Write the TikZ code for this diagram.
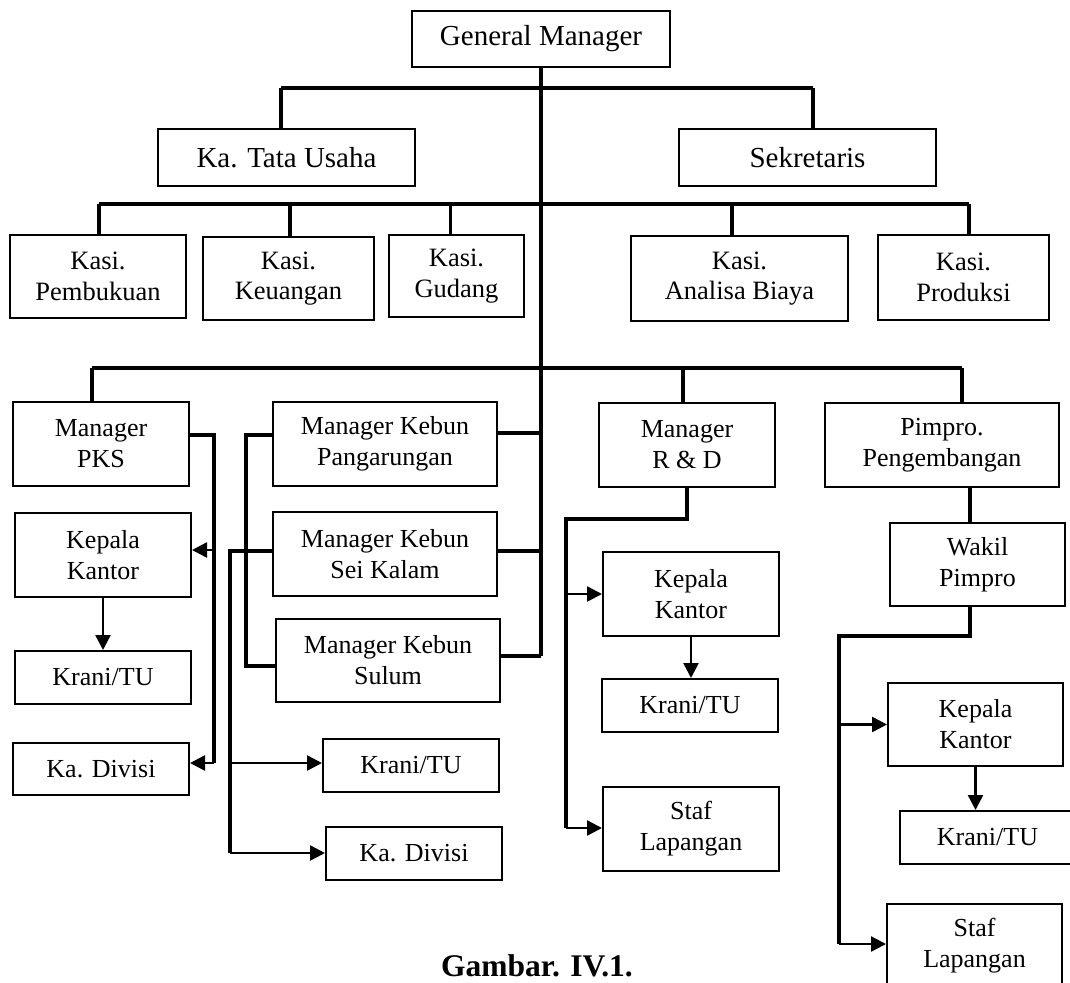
\documentclass[tikz,border=0pt]{standalone}
\usepackage{fontspec}
\setmainfont{Liberation Serif}
\usetikzlibrary{arrows.meta, positioning}

\begin{document}
\begin{tikzpicture}[x=1pt, y=-1pt,
    box/.style={draw, line width=2pt, align=center, inner sep=0pt, font=\fontsize{26}{31}\selectfont},
    topbox/.style={box, font=\fontsize{29}{33}\selectfont},
    kasibox/.style={box, font=\fontsize{26.5}{30.5}\selectfont},
    conn/.style={line width=3.5pt},
    arr/.style={line width=2.5pt, -{Triangle[length=15pt, width=15pt]}}
]
\useasboundingbox (0,0) rectangle (1070,982);

\node[topbox, minimum width=258pt, minimum height=56pt] (gm) at (541,39) {General Manager};
\node[topbox, minimum width=257pt, minimum height=57pt] (tu) at (286.5,157.5) {Ka. Tata Usaha};
\node[topbox, minimum width=257pt, minimum height=57pt] (sek) at (807.5,157.5) {Sekretaris};

\node[kasibox, minimum width=176pt, minimum height=83pt] (kpb) at (98,276.5) {Kasi.\\Pembukuan};
\node[kasibox, minimum width=171pt, minimum height=83pt] (kku) at (288.5,278.5) {Kasi.\\Keuangan};
\node[kasibox, minimum width=135pt, minimum height=82pt] (kgd) at (456.5,276) {Kasi.\\Gudang};
\node[kasibox, minimum width=217pt, minimum height=85pt] (kab) at (739.5,278.5) {Kasi.\\Analisa Biaya};
\node[kasibox, minimum width=171pt, minimum height=85pt] (kpr) at (963.5,277.5) {Kasi.\\Produksi};

\node[box, minimum width=176pt, minimum height=84pt] (pks) at (101,444) {Manager\\PKS};
\node[box, minimum width=176pt, minimum height=84pt] (kk1) at (103,555) {Kepala\\Kantor};
\node[box, minimum width=176pt, minimum height=53pt] (kr1) at (103,677.5) {Krani/TU};
\node[box, minimum width=176pt, minimum height=52pt] (kd1) at (101,769) {Ka. Divisi};

\node[box, minimum width=224pt, minimum height=84pt] (mkp) at (385,444) {Manager Kebun\\Pangarungan};
\node[box, minimum width=224pt, minimum height=84pt] (mks) at (385,554) {Manager Kebun\\Sei Kalam};
\node[box, minimum width=224pt, minimum height=83pt] (mksu) at (388,660.5) {Manager Kebun\\Sulum};
\node[box, minimum width=176pt, minimum height=53pt] (kr2) at (411,765.5) {Krani/TU};
\node[box, minimum width=176pt, minimum height=53pt] (kd2) at (414,853.5) {Ka. Divisi};

\node[box, minimum width=176pt, minimum height=84pt] (rd) at (687,445) {Manager\\R \& D};
\node[box, minimum width=176pt, minimum height=84pt] (kk3) at (691,594) {Kepala\\Kantor};
\node[box, minimum width=176pt, minimum height=53pt] (kr3) at (690,705.5) {Krani/TU};
\node[box, minimum width=176pt, minimum height=84pt] (sf3) at (691,829) {Staf\\Lapangan};

\node[box, minimum width=234pt, minimum height=84pt] (pp) at (942,445) {Pimpro.\\Pengembangan};
\node[box, minimum width=175pt, minimum height=83pt] (wk) at (977.5,564.5) {Wakil\\Pimpro};
\node[box, minimum width=175pt, minimum height=83pt] (kk4) at (975.5,724.5) {Kepala\\Kantor};
\node[box, minimum width=175pt, minimum height=53pt] (kr4) at (987.5,837.5) {Krani/TU};
\node[box, minimum width=175pt, minimum height=84pt] (sf4) at (974.5,946) {Staf\\Lapangan};

\node[font=\bfseries\fontsize{31.5}{36}\selectfont, anchor=base] (cap) at (537,976) {Gambar. IV.1.};

\coordinate (c1) at (281,88);
\coordinate (c2) at (813,88);
\coordinate (d1) at (99,204);
\coordinate (d2) at (290,204);
\coordinate (d3) at (450.5,204);
\coordinate (d4) at (732,204);
\coordinate (d5) at (969,204);
\coordinate (e1) at (92,368);
\coordinate (e2) at (683,368);
\coordinate (e3) at (962,368);
\coordinate (tr1) at (541,433);
\coordinate (tr2) at (541,551);
\coordinate (tr3) at (541,656);

\draw[conn] (gm) -- (tr3);
\draw[conn] (c1) -- (c2);
\draw[conn] (c1) -- (c1 |- tu.north);
\draw[conn] (c2) -- (c2 |- sek.north);
\draw[conn] (d1) -- (d5);
\draw[conn] (d1) -- (d1 |- kpb.north);
\draw[conn] (d2) -- (d2 |- kku.north);
\draw[conn] (d3) -- (d3 |- kgd.north);
\draw[conn] (d4) -- (d4 |- kab.north);
\draw[conn] (d5) -- (d5 |- kpr.north);
\draw[conn] (e1) -- (e3);
\draw[conn] (e1) -- (e1 |- pks.north);
\draw[conn] (e2) -- (e2 |- rd.north);
\draw[conn] (e3) -- (e3 |- pp.north);

\draw[conn] ([yshift=11pt]mkp.east) -- (tr1);
\draw[conn] ([yshift=3pt]mks.east) -- (tr2);
\draw[conn] ([yshift=4.5pt]mksu.east) -- (tr3);

\coordinate (pk1) at (214,435);
\coordinate (pk2) at (214,550);
\coordinate (pk3) at (214,763);
\draw[conn] ([yshift=9pt]pks.east) -- (pk1) -- (pk3);
\draw[arr] (pk2) -- (pk2 -| kk1.east);
\draw[arr] (pk3) -- (pk3 -| kd1.east);
\draw[arr] (kk1.south) -- (kk1.south |- kr1.north);

\coordinate (mk1) at (246,435);
\coordinate (mk2) at (246,666);
\draw[conn] ([yshift=9pt]mkp.west) -- (mk1) -- (mk2) -- (mk2 -| mksu.west);

\coordinate (sk1) at (230,551);
\coordinate (sk2) at (230,763);
\coordinate (sk3) at (230,853);
\draw[conn] ([yshift=3pt]mks.west) -- (sk1) -- (sk3);
\draw[arr] (sk2) -- (sk2 -| kr2.west);
\draw[arr] (sk3) -- (sk3 -| kd2.west);

\coordinate (rd1) at (566,519);
\coordinate (rd2) at (566,828);
\draw[conn] (rd.south) |- (rd1) -- (rd2);
\draw[arr] (rd1 |- kk3.west) -- (kk3.west);
\draw[arr] (rd2) -- (rd2 -| sf3.west);
\draw[arr] (kk3.south) -- (kk3.south |- kr3.north);

\coordinate (pw) at (970,487);
\coordinate (wk1) at (839,636);
\coordinate (wk2) at (839,944);
\draw[conn] (pw) -- (pw |- wk.north);
\draw[conn] (pw |- wk.south) |- (wk1) -- (wk2);
\draw[arr] (wk1 |- kk4.west) -- (kk4.west);
\draw[arr] (wk2) -- (wk2 -| sf4.west);
\draw[arr] (kk4.south) -- (kk4.south |- kr4.north);
\end{tikzpicture}
\end{document}
